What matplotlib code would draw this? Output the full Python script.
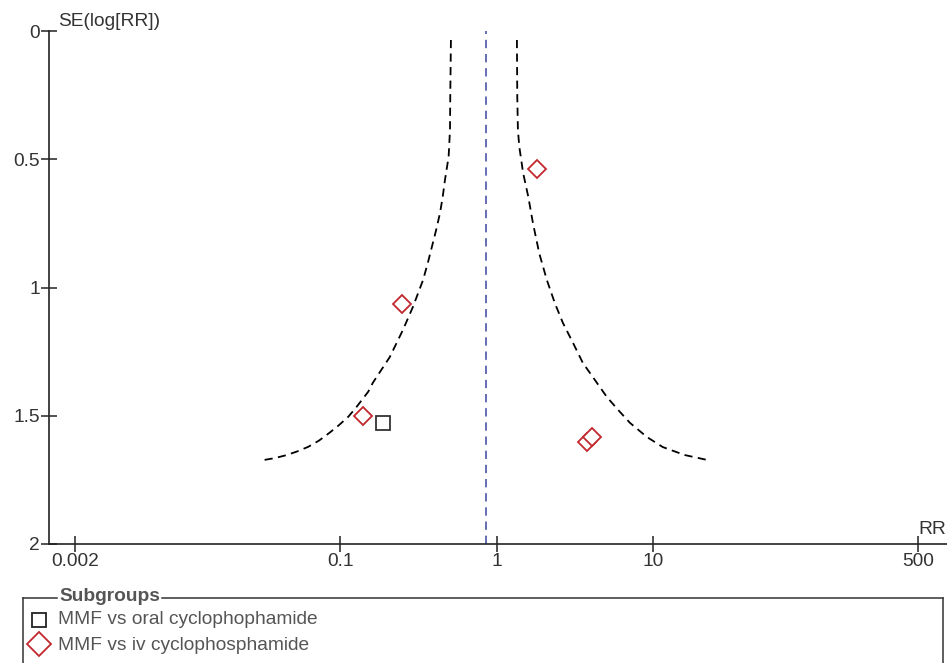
import numpy as np
import matplotlib
matplotlib.use('Agg')
import matplotlib.pyplot as plt
from matplotlib.lines import Line2D

plt.rcParams['font.family'] = ['Liberation Sans', 'DejaVu Sans']

# study estimates
oral_rr = [0.186]
oral_se = [1.529]
iv_rr = [1.81, 0.247, 0.139, 3.78, 4.10]
iv_se = [0.538, 1.064, 1.501, 1.601, 1.582]

pooled_rr = 0.85

# funnel limits as drawn
funnel_se_lo = [0.035, 0.256, 0.386, 0.490, 0.581, 0.646, 0.710, 0.776, 0.842, 0.906, 0.971, 1.076,
                1.166, 1.271, 1.372, 1.406, 1.465, 1.504, 1.539, 1.568, 1.597, 1.621, 1.639,
                1.654, 1.665, 1.673]
funnel_rr_lo = [0.510, 0.505, 0.503, 0.493, 0.467, 0.452, 0.434, 0.410, 0.385, 0.362, 0.338, 0.291,
                0.251, 0.207, 0.161, 0.1507, 0.127, 0.1122, 0.0968, 0.0844, 0.0728, 0.0622, 0.0529,
                0.0448, 0.0380, 0.0320]
funnel_se_hi = [0.035, 0.256, 0.386, 0.451, 0.554, 0.646, 0.749, 0.867, 0.971, 1.062, 1.138,
                1.218, 1.294, 1.361, 1.427, 1.478, 1.528, 1.583, 1.622, 1.653, 1.665, 1.673]
funnel_rr_hi = [1.35, 1.357, 1.37, 1.398, 1.48, 1.596, 1.71, 1.877, 2.10, 2.366, 2.66,
                3.10, 3.57, 4.27, 5.09, 6.02, 7.16, 9.19, 11.6, 16.0, 19.7, 22.6]

x_ticks = [0.002, 0.1, 1, 10, 500]
x_ticklabels = ['0.002', '0.1', '1', '10', '500']
y_ticks = [0, 0.5, 1, 1.5, 2]
y_ticklabels = ['0', '0.5', '1', '1.5', '2']

legend_labels = ['MMF vs oral cyclophophamide', 'MMF vs iv cyclophosphamide']

W, H = 947, 663
fig = plt.figure(figsize=(W / 100, H / 100), dpi=100)

def fx(px):
    return px / W

def fy(py):
    return 1 - py / H

ax = fig.add_axes([fx(49), fy(544), fx(947 - 49), (544 - 31) / H])
ax.set_xscale('log')
ax.set_xlim(0.001358, 768)
ax.set_ylim(2, 0)

ax.axvline(pooled_rr, color='#4a55a8', lw=1.2, ls=(0, (5, 3.5)))
ax.plot(funnel_rr_lo, funnel_se_lo, color='black', lw=1.3, ls=(0, (4.5, 3)), solid_joinstyle='round')
ax.plot(funnel_rr_hi, funnel_se_hi, color='black', lw=1.3, ls=(0, (4.5, 3)), solid_joinstyle='round')

ax.plot(iv_rr, iv_se, ls='none', marker='D', ms=9.3, mfc='white', mec='#c1272d', mew=1.3)
ax.plot(oral_rr, oral_se, ls='none', marker='s', ms=9.8, mfc='white', mec='#333333', mew=1.3)

for s in ['top', 'right']:
    ax.spines[s].set_visible(False)
for s in ['left', 'bottom']:
    ax.spines[s].set_linewidth(1.2)
    ax.spines[s].set_color('#222222')

ax.set_xticks(x_ticks)
ax.set_xticklabels(x_ticklabels)
ax.xaxis.set_minor_locator(matplotlib.ticker.NullLocator())
ax.set_yticks(y_ticks)
ax.set_yticklabels(y_ticklabels)
ax.tick_params(direction='inout', length=11, width=1.1, color='#222222',
               labelsize=13.8, labelcolor='#333333', pad=1)

fig.text(fx(58), fy(21), 'SE(log[RR])', fontsize=13.8, color='#333333', va='center', ha='left')
fig.text(fx(946), fy(530), 'RR', fontsize=13.8, color='#333333', va='center', ha='right')

# subgroup legend box
lc = '#333333'
yb = 597.7
fig.add_artist(Line2D([fx(23), fx(57)], [fy(yb), fy(yb)], color=lc, lw=1.1))
fig.add_artist(Line2D([fx(162), fx(943)], [fy(yb), fy(yb)], color=lc, lw=1.1))
fig.add_artist(Line2D([fx(23), fx(23)], [fy(yb), fy(670)], color=lc, lw=1.1))
fig.add_artist(Line2D([fx(943), fx(943)], [fy(yb), fy(670)], color=lc, lw=1.1))
fig.text(fx(59), fy(yb - 1), 'Subgroups', fontsize=13.8, fontweight='bold', color='#555555', va='center', ha='left')

fig.add_artist(Line2D([fx(39)], [fy(620)], ls='none', marker='s', ms=10, mfc='white', mec='#222222', mew=1.3))
fig.add_artist(Line2D([fx(39)], [fy(644)], ls='none', marker='D', ms=12.5, mfc='white', mec='#c1272d', mew=1.3))
fig.text(fx(58), fy(620), legend_labels[0], fontsize=13.8, color='#555555', va='center', ha='left')
fig.text(fx(58), fy(645), legend_labels[1], fontsize=13.8, color='#555555', va='center', ha='left')

fig.savefig('out.png', dpi=100)
